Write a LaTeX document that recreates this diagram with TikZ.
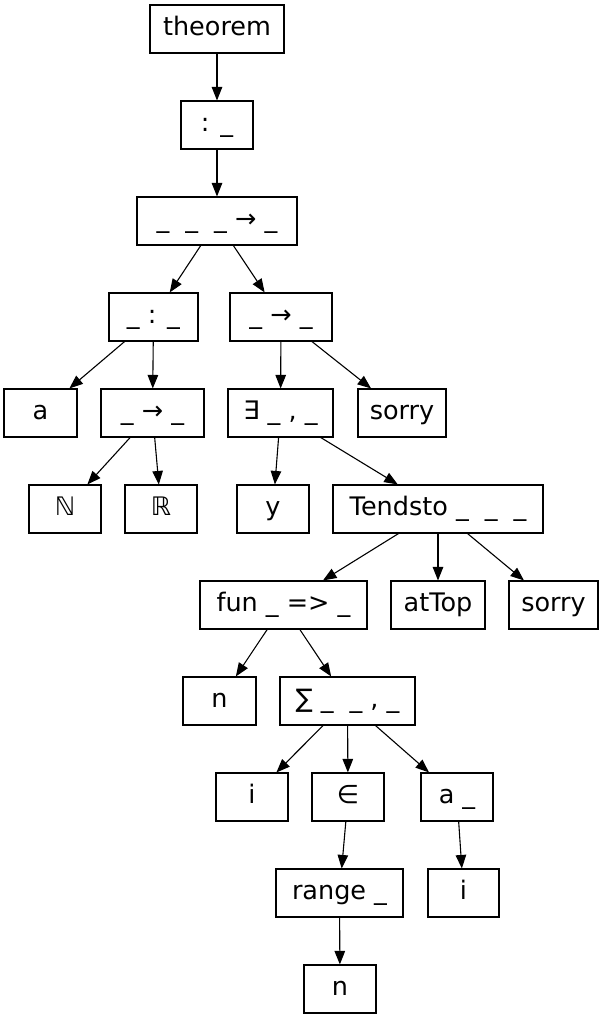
\documentclass[tikz,border=0pt]{standalone}
\usepackage{fontspec}
\setmainfont{DejaVu Sans}
\usetikzlibrary{arrows.meta}
\newcommand\ugap{\hspace{16pt}}
\tikzset{
  bx/.style={draw=black, line width=1.1pt, inner sep=0pt, minimum height=48pt,
    font=\fontsize{25.5}{30}\selectfont, text height=18pt, text depth=5pt},
  ed/.style={line width=1.1pt, -{Triangle[length=13.5pt,width=10.5pt]}}
}
\begin{document}
\begin{tikzpicture}[x=1pt,y=-1pt]
\useasboundingbox (0,0) rectangle (605,1019);
\node[bx, minimum width=134pt] (theorem) at (217,29) {theorem};
\node[bx, minimum width=72pt] (colon) at (217,125) {: \_};
\node[bx, minimum width=160pt] (arr3) at (217,221) {\_\ugap\_\ugap\_ → \_};
\node[bx, minimum width=89pt] (typed) at (153.5,317) {\_ : \_};
\node[bx, minimum width=102pt] (imp) at (281,317) {\_ → \_};
\node[bx, minimum width=73pt] (a) at (40.5,413) {a};
\node[bx, minimum width=103pt] (imp2) at (152.5,413) {\_ → \_};
\node[bx, minimum width=105pt] (ex) at (280.5,413) {∃ \_ , \_};
\node[bx, minimum width=88pt] (sorry1) at (402,413) {sorry};
\node[bx, minimum width=72pt] (nat) at (65,509) {ℕ};
\node[bx, minimum width=72pt] (real) at (161,509) {ℝ};
\node[bx, minimum width=72pt] (y) at (273,509) {y};
\node[bx, minimum width=210pt] (tend) at (438,509) {Tendsto \_\ugap\_\ugap\_};
\node[bx, minimum width=167pt] (fun) at (283.5,605) {fun \_ => \_};
\node[bx, minimum width=94pt] (attop) at (438,605) {atTop};
\node[bx, minimum width=89pt] (sorry2) at (553.5,605) {sorry};
\node[bx, minimum width=73pt] (n1) at (219.5,701) {n};
\node[bx, minimum width=135pt] (sum) at (347.5,701) {∑ \_\ugap\_ , \_};
\node[bx, minimum width=72pt] (i1) at (252,797) {i};
\node[bx, minimum width=72pt] (in) at (348,797) {∈};
\node[bx, minimum width=72pt] (ai) at (457,797) {a \_};
\node[bx, minimum width=127pt] (range) at (339.5,893) {range \_};
\node[bx, minimum width=71pt] (i2) at (463.5,893) {i};
\node[bx, minimum width=72pt] (n2) at (340,989) {n};
\foreach \s/\t in {theorem/colon, colon/arr3, arr3/typed, arr3/imp, typed/a, typed/imp2,
  imp2/nat, imp2/real, imp/ex, imp/sorry1, ex/y, ex/tend, tend/fun, tend/attop, tend/sorry2,
  fun/n1, fun/sum, sum/i1, sum/in, sum/ai, in/range, ai/i2, range/n2}
  \draw[ed] (\s) -- (\t);
\end{tikzpicture}
\end{document}
